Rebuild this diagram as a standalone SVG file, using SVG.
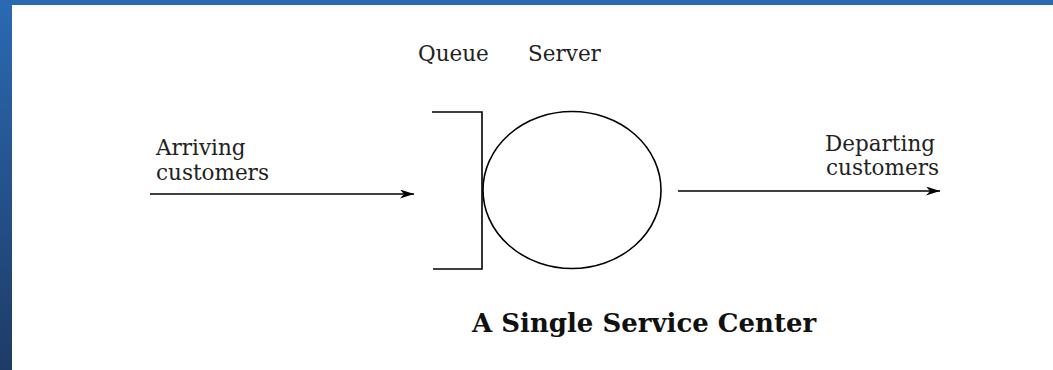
<svg xmlns="http://www.w3.org/2000/svg" width="1053" height="370" viewBox="0 0 1053 370">
<defs>
<linearGradient id="side" x1="0" y1="0" x2="0" y2="1">
<stop offset="0" stop-color="#2b6ab3"/>
<stop offset="1" stop-color="#1e3b66"/>
</linearGradient>
<marker id="arr" viewBox="0 0 14 9" refX="14" refY="4.5" markerWidth="14" markerHeight="9" markerUnits="userSpaceOnUse" orient="auto">
<path d="M0,0 L14,4.5 L0,9 L4,4.5 Z" fill="#000"/>
</marker>
<style>
.t{font-family:"DejaVu Serif","Liberation Serif",serif;font-size:21.5px;fill:#222}
.ttl{font-family:"DejaVu Serif","Liberation Serif",serif;font-size:26px;font-weight:bold;fill:#111}
.ln{stroke:#000;stroke-width:1.6;fill:none}
</style>
</defs>
<rect width="1053" height="370" fill="#fff"/>
<rect x="0" y="0" width="1053" height="5" fill="#2b6ab3"/>
<rect x="0" y="0" width="12" height="370" fill="url(#side)"/>
<g id="queue">
<path class="ln" d="M432,112 H482 V269 H433"/>
<text class="t" x="418" y="61">Queue</text>
</g>
<g id="server">
<ellipse class="ln" cx="572" cy="190" rx="89" ry="78.5"/>
<text class="t" x="528" y="61">Server</text>
</g>
<g id="arriving">
<text class="t" x="156" y="155">Arriving</text>
<text class="t" x="156" y="180">customers</text>
</g>
<g id="departing">
<text class="t" x="935" y="151" text-anchor="end">Departing</text>
<text class="t" x="939" y="175" text-anchor="end">customers</text>
</g>
<g id="connectors">
<line class="ln" x1="150" y1="194" x2="414" y2="194" marker-end="url(#arr)"/>
<line class="ln" x1="678" y1="191" x2="940" y2="191" marker-end="url(#arr)"/>
</g>
<text class="ttl" x="472" y="332">A Single Service Center</text>
</svg>
